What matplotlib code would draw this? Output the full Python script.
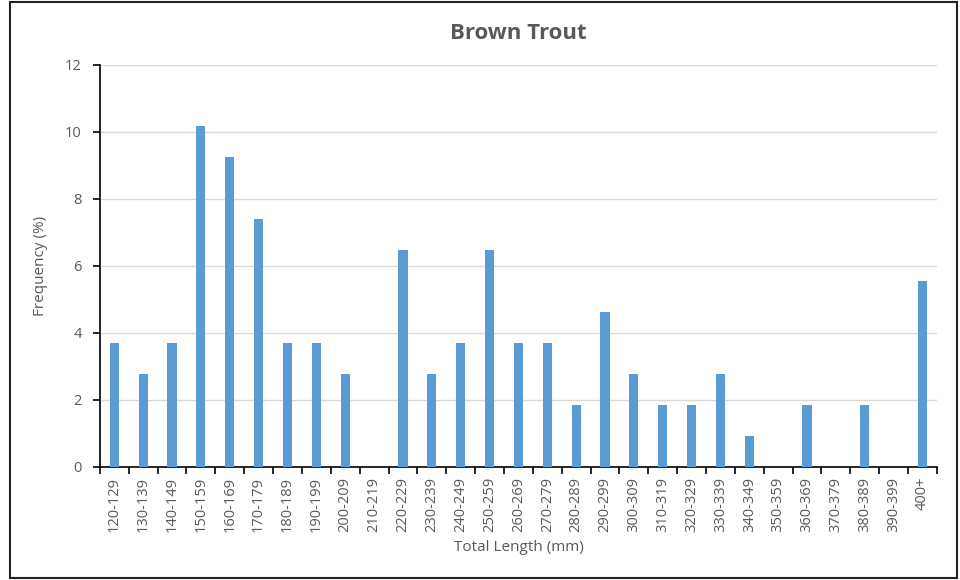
"""Brown Trout length frequency."""
import matplotlib.pyplot as plt
from matplotlib.patches import Rectangle

plt.rcParams['font.family'] = ['Open Sans', 'DejaVu Sans']

# length classes (mm)
categories = ["120-129", "130-139", "140-149", "150-159", "160-169", "170-179",
              "180-189", "190-199", "200-209", "210-219", "220-229", "230-239",
              "240-249", "250-259", "260-269", "270-279", "280-289", "290-299",
              "300-309", "310-319", "320-329", "330-339", "340-349", "350-359",
              "360-369", "370-379", "380-389", "390-399", "400+"]
# frequency (%)
frequency = [3.70, 2.78, 3.70, 10.19, 9.26, 7.41, 3.70, 3.70, 2.78, 0.0,
             6.48, 2.78, 3.70, 6.48, 3.70, 3.70, 1.85, 4.63, 2.78, 1.85,
             1.85, 2.78, 0.93, 0.0, 1.85, 0.0, 1.85, 0.0, 5.56]
y_ticks = [0, 2, 4, 6, 8, 10, 12]

grey = "#595959"

fig = plt.figure(figsize=(9.6, 5.8), dpi=100)
ax = fig.add_axes([0.104, 0.195, 0.872, 0.693])

x = list(range(len(categories)))
ax.bar(x, frequency, width=0.32, color="#5B9BD5", zorder=3)

ax.set_xlim(-0.5, len(categories) - 0.5)
ax.set_ylim(0, 12)
ax.set_yticks(y_ticks)
ax.set_xticks(x)
ax.set_xticklabels(categories, rotation=90, fontsize=10.5, color=grey)
ax.tick_params(axis="x", length=0, pad=7)
ax.set_xticks([i - 0.5 for i in range(len(categories) + 1)], minor=True)
ax.tick_params(axis="x", which="minor", length=5, width=1.2, color="black",
               direction="out")
ax.tick_params(axis="y", length=5, width=1.2, color="black", labelsize=10.5,
               labelcolor=grey, pad=8)

ax.grid(axis="y", color="#D9D9D9", lw=1, zorder=0)
for side in ["top", "right"]:
    ax.spines[side].set_visible(False)
for side in ["left", "bottom"]:
    ax.spines[side].set_color("black")
    ax.spines[side].set_linewidth(1.2)

ax.set_title("Brown Trout", fontsize=16, fontweight="bold", color=grey, pad=19)
ax.set_xlabel("Total Length (mm)", fontsize=11, color=grey, labelpad=6)
ax.set_ylabel("Frequency (%)", fontsize=11, color=grey, labelpad=12)

# chart frame
fig.patches.append(Rectangle((10 / 960, 2 / 580), 947 / 960, 576 / 580,
                             transform=fig.transFigure, fill=False,
                             edgecolor="#222222", lw=1.5))

plt.savefig("out.png", dpi=100)
